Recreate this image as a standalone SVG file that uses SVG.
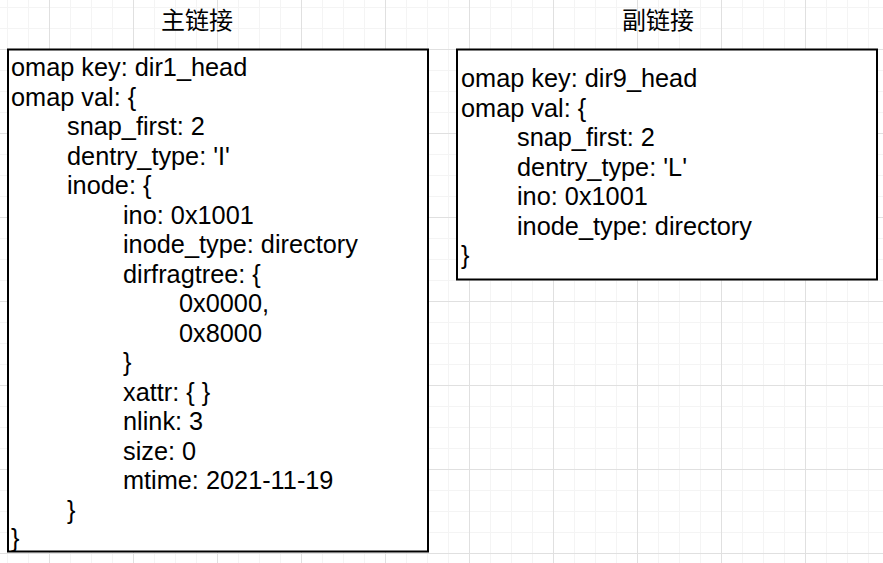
<svg xmlns="http://www.w3.org/2000/svg" width="883" height="563" viewBox="0 0 883 563">
  <style>
    .box { fill: #ffffff; stroke: #000000; stroke-width: 2; }
    .t { font-family: "Liberation Sans", Arial, sans-serif; font-size: 25.3px; fill: #000000; }
    .title { font-family: "Noto Sans CJK SC", "Liberation Sans", sans-serif; font-size: 24px; fill: #000000; text-anchor: middle; }
  </style>
  <defs>
    <pattern id="grid" patternUnits="userSpaceOnUse" x="49" y="49" width="84" height="84">
      <path d="M21.5 0V84M42.5 0V84M63.5 0V84M0 21.5H84M0 42.5H84M0 63.5H84" stroke="#f4f4f4" stroke-width="1" fill="none"/>
      <path d="M0.5 0V84M0 0.5H84" stroke="#e0e0e0" stroke-width="1" fill="none"/>
    </pattern>
  </defs>
  <rect x="0" y="0" width="883" height="563" fill="#ffffff"/>
  <rect x="0" y="0" width="883" height="563" fill="url(#grid)"/>

  <g id="connectors"></g>

  <g id="title-main">
    <text class="title" x="197" y="29">主链接</text>
  </g>
  <g id="title-secondary">
    <text class="title" x="658" y="29">副链接</text>
  </g>

  <g id="node-main">
    <rect class="box" x="8" y="49.5" width="420" height="502"/>
    <text class="t" x="11" y="76">omap key: dir1_head</text>
    <text class="t" x="11" y="105.5">omap val: {</text>
    <text class="t" x="67" y="135">snap_first: 2</text>
    <text class="t" x="67" y="164.5">dentry_type: 'I'</text>
    <text class="t" x="67" y="194">inode: {</text>
    <text class="t" x="123" y="223.5">ino: 0x1001</text>
    <text class="t" x="123" y="253">inode_type: directory</text>
    <text class="t" x="123" y="282.5">dirfragtree: {</text>
    <text class="t" x="179" y="312">0x0000,</text>
    <text class="t" x="179" y="341.5">0x8000</text>
    <text class="t" x="123" y="371">}</text>
    <text class="t" x="123" y="400.5">xattr: { }</text>
    <text class="t" x="123" y="430">nlink: 3</text>
    <text class="t" x="123" y="459.5">size: 0</text>
    <text class="t" x="123" y="489">mtime: 2021-11-19</text>
    <text class="t" x="67" y="518.5">}</text>
    <text class="t" x="11" y="547">}</text>
  </g>

  <g id="node-secondary">
    <rect class="box" x="457" y="49.5" width="420" height="230"/>
    <text class="t" x="461" y="87">omap key: dir9_head</text>
    <text class="t" x="461" y="116.5">omap val: {</text>
    <text class="t" x="517" y="146">snap_first: 2</text>
    <text class="t" x="517" y="175.5">dentry_type: 'L'</text>
    <text class="t" x="517" y="205">ino: 0x1001</text>
    <text class="t" x="517" y="234.5">inode_type: directory</text>
    <text class="t" x="461" y="264">}</text>
  </g>
</svg>
